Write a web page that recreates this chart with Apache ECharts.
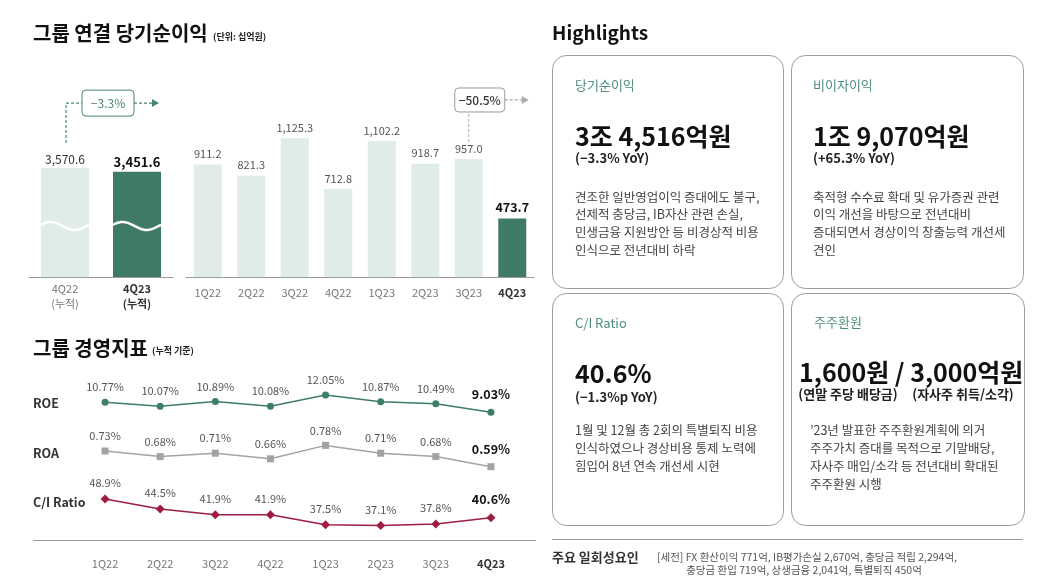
<!DOCTYPE html>
<html><head><meta charset="utf-8">
<script src="https://cdn.jsdelivr.net/npm/echarts@6/dist/echarts.min.js"></script>
<style>html,body{margin:0;padding:0;background:#fff}#c{width:1052px;height:582px}</style>
</head><body><div id="c"></div>
<script>
// ---------- data ----------
const cumCategories = ['4Q22\n(누적)', '4Q23\n(누적)'];
const cumValues = [3570.6, 3451.6];
const qCategories = ['1Q22', '2Q22', '3Q22', '4Q22', '1Q23', '2Q23', '3Q23', '4Q23'];
const qValues = [911.2, 821.3, 1125.3, 712.8, 1102.2, 918.7, 957.0, 473.7];
const roeValues = [10.77, 10.07, 10.89, 10.08, 12.05, 10.87, 10.49, 9.03];
const roaValues = [0.73, 0.68, 0.71, 0.66, 0.78, 0.71, 0.68, 0.59];
const ciValues = [48.9, 44.5, 41.9, 41.9, 37.5, 37.1, 37.8, 40.6];
const yoyCumText = '−3.3%';
const qoqText = '−50.5%';

// ---------- style ----------
const FONT = '"Noto Sans CJK KR", "Noto Sans", sans-serif';
const LIGHT = '#dfecea', DARK = '#3e7a67';
const ROE_C = '#3d7d6a', ROA_C = '#a3a3a3', CI_C = '#9e1d41';
const lastQ = qCategories.length - 1;
const fmt1 = v => v.toLocaleString('en-US', {minimumFractionDigits: 1, maximumFractionDigits: 1});

function richCat(lastIdx) {
  return {
    margin: 0, interval: 0,
    formatter: (v, i) => v.split('\n').map(s => i === lastIdx ? '{b|' + s + '}' : '{n|' + s + '}').join('\n'),
    rich: {
      n: {color: '#777', fontSize: 11, lineHeight: 15, fontFamily: FONT},
      b: {color: '#333', fontSize: 11, fontWeight: 'bold', lineHeight: 15, fontFamily: FONT}
    }
  };
}

function lineSeries(values, yIdx, color, symbol, size, dec) {
  const last = values.length - 1;
  return {
    type: 'line', xAxisIndex: 2, yAxisIndex: yIdx,
    symbol: symbol, symbolSize: size,
    lineStyle: {color: color, width: 1.5},
    itemStyle: {color: color},
    label: {show: true, position: 'top', distance: 6, color: '#555', fontSize: 11, fontFamily: FONT,
      formatter: p => p.value.toFixed(dec) + '%'},
    data: values.map((v, i) => i === last
      ? {value: v, label: {color: '#111', fontWeight: 'bold', fontSize: 12.5, distance: 8}}
      : v)
  };
}

const chart = echarts.init(document.getElementById('c'), null, {renderer: 'canvas'});

const option = {
  animation: false,
  textStyle: {fontFamily: FONT},
  grid: [
    {left: 29, width: 144, top: 155, height: 122},
    {left: 186, width: 348, top: 129, height: 148},
    {left: 77.5, width: 441, top: 380, height: 160}
  ],
  xAxis: [
    Object.assign({type: 'category', gridIndex: 0, data: cumCategories,
      axisTick: {show: false}, axisLine: {lineStyle: {color: '#9a9a9a'}}},
      {axisLabel: Object.assign(richCat(1), {margin: 4})}),
    Object.assign({type: 'category', gridIndex: 1, data: qCategories,
      axisTick: {show: false}, axisLine: {lineStyle: {color: '#9a9a9a'}}},
      {axisLabel: Object.assign(richCat(lastQ), {margin: 8})}),
    Object.assign({type: 'category', gridIndex: 2, data: qCategories,
      axisTick: {show: false}, axisLine: {show: false}},
      {axisLabel: Object.assign(richCat(lastQ), {margin: 16})})
  ],
  yAxis: [
    {type: 'value', gridIndex: 0, min: 0, max: 4000, show: false},
    {type: 'value', gridIndex: 1, min: 0, max: 1200, show: false},
    {type: 'value', gridIndex: 2, min: -13.4, max: 14.67, show: false},
    {type: 'value', gridIndex: 2, min: -0.065, max: 1.364, show: false},
    {type: 'value', gridIndex: 2, min: 30.7, max: 101.8, show: false}
  ],
  series: [
    {
      type: 'bar', xAxisIndex: 0, yAxisIndex: 0, barWidth: 48,
      label: {show: true, position: 'top', distance: 3, color: '#333', fontSize: 12, fontFamily: FONT,
        formatter: p => fmt1(p.value)},
      data: cumValues.map((v, i) => i === 1
        ? {value: v, itemStyle: {color: DARK}, label: {fontWeight: 'bold', color: '#111', fontSize: 13}}
        : {value: v, itemStyle: {color: LIGHT}})
    },
    {
      type: 'custom', xAxisIndex: 0, yAxisIndex: 0, z: 5, silent: true,
      data: cumValues.map((v, i) => [i, v]),
      renderItem: function (params, api) {
        const base = api.coord([api.value(0), 0]);
        const w = 48;
        const x0 = base[0] - w / 2;
        const yc = base[1] - 51;
        const pts = [];
        for (let k = 0; k <= 24; k++) {
          const t = k / 24;
          pts.push([x0 + t * w, yc - 4 * Math.sin(Math.PI * 2 * (t + 0.05))]);
        }
        return {type: 'polyline', shape: {points: pts, smooth: 0.3},
          style: {stroke: '#ffffff', lineWidth: 2.5, fill: null}};
      }
    },
    {
      type: 'bar', xAxisIndex: 1, yAxisIndex: 1, barWidth: 28,
      label: {show: true, position: 'top', distance: 5, color: '#555', fontSize: 11, fontFamily: FONT,
        formatter: p => fmt1(p.value)},
      data: qValues.map((v, i) => i === lastQ
        ? {value: v, itemStyle: {color: DARK}, label: {fontWeight: 'bold', color: '#111', fontSize: 12.5}}
        : {value: v, itemStyle: {color: LIGHT}})
    },
    lineSeries(roeValues, 2, ROE_C, 'circle', 7, 2),
    lineSeries(roaValues, 3, ROA_C, 'rect', 7, 2),
    lineSeries(ciValues, 4, CI_C, 'diamond', 9, 1)
  ]
};
chart.setOption(option);

// ---------- graphic (texts, cards, annotations) ----------
function T(x, y, text, font, fill, align, vAlign, extra) {
  return {type: 'text', x: x, y: y, z: 10, silent: true,
    style: Object.assign({text: text, font: font, fill: fill,
      textAlign: align || 'left', align: align || 'left',
      textVerticalAlign: vAlign || 'middle', verticalAlign: vAlign || 'middle'}, extra || {})};
}
function card(x, y, w, h) {
  return {type: 'rect', z: 1, silent: true, shape: {x: x, y: y, width: w, height: h, r: 14},
    style: {fill: '#fff', stroke: '#9c9c9c', lineWidth: 1}};
}
function dashed(points, color) {
  return {type: 'polyline', z: 6, silent: true, shape: {points: points},
    style: {stroke: color, lineWidth: 1.2, lineDash: [3, 2], fill: null}};
}
function head(x, y, color) {
  return {type: 'polygon', z: 6, silent: true, shape: {points: [[x - 7, y - 4], [x, y], [x - 7, y + 4]]},
    style: {fill: color}};
}
function box(cx, cy, w, h, color) {
  return {type: 'rect', z: 6, silent: true, shape: {x: cx - w / 2, y: cy - h / 2, width: w, height: h, r: 4},
    style: {fill: '#fff', stroke: color, lineWidth: 1}};
}

const a0 = chart.convertToPixel({xAxisIndex: 0, yAxisIndex: 0}, [0, cumValues[0]]);
const a1 = chart.convertToPixel({xAxisIndex: 0, yAxisIndex: 0}, [1, cumValues[1]]);
const b6 = chart.convertToPixel({xAxisIndex: 1, yAxisIndex: 1}, [6, qValues[6]]);

const G1 = '#4b8472', G2 = '#9a9a9a';
const lbx = a0[0] + 43, lby = a0[1] - 65;
const rbx = b6[0] + 11, rby = b6[1] - 59;

const bodyFont = '12.5px ' + FONT;
const labelFont = '13px ' + FONT;
const bigFont = 'bold 25px ' + FONT;
const subFont = 'bold 13px ' + FONT;
const LBL = '#4f8d7f', BODY = '#444';

const graphic = [
  // titles
  T(33, 33, '그룹 연결 당기순이익', 'bold 20px ' + FONT, '#111'),
  T(213, 37, '(단위: 십억원)', 'bold 9px ' + FONT, '#222'),
  T(33, 348, '그룹 경영지표', 'bold 20px ' + FONT, '#111'),
  T(152, 351, '(누적 기준)', 'bold 9px ' + FONT, '#222'),
  T(552, 33, 'Highlights', 'bold 19px ' + FONT, '#111'),

  // left annotation (-3.3%)
  dashed([[a0[0] + 1, a0[1] - 25], [a0[0] + 1, lby], [lbx - 26, lby]], G1),
  box(lbx, lby, 52, 26, G1),
  T(lbx, lby, yoyCumText, '12px ' + FONT, G1, 'center'),
  dashed([[lbx + 26, lby], [a1[0] + 18, lby]], G1),
  head(a1[0] + 22, lby, G1),

  // right annotation (-50.5%)
  dashed([[b6[0], b6[1] - 17], [b6[0], rby + 12]], '#bbbbbb'),
  box(rbx, rby, 50, 24, G2),
  T(rbx, rby, qoqText, '500 12px ' + FONT, '#333', 'center'),
  dashed([[rbx + 25, rby], [b6[0] + 56, rby]], '#aaaaaa'),
  head(b6[0] + 60, rby, '#aaaaaa'),

  // line chart row labels + baseline
  T(33, 403, 'ROE', 'bold 12.5px ' + FONT, '#333'),
  T(33, 453, 'ROA', 'bold 12.5px ' + FONT, '#333'),
  T(33, 502, 'C/I Ratio', 'bold 12.5px ' + FONT, '#333'),
  {type: 'line', z: 2, silent: true, shape: {x1: 33, y1: 540.5, x2: 536, y2: 540.5},
    style: {stroke: '#9a9a9a', lineWidth: 1}},

  // cards
  card(552.5, 55.5, 231, 233), card(791.5, 55.5, 232, 233),
  card(552.5, 293.5, 231, 232), card(791.5, 293.5, 233, 232),

  T(575, 85, '당기순이익', labelFont, LBL),
  T(575, 136, '3조 4,516억원', bigFont, '#111'),
  T(575, 158, '(−3.3% YoY)', subFont, '#222'),
  T(575, 188, '견조한 일반영업이익 증대에도 불구,\n선제적 충당금, IB자산 관련 손실,\n민생금융 지원방안 등 비경상적 비용\n인식으로 전년대비 하락',
    bodyFont, BODY, 'left', 'top', {lineHeight: 17.8}),

  T(813, 85, '비이자이익', labelFont, LBL),
  T(813, 136, '1조 9,070억원', bigFont, '#111'),
  T(813, 158, '(+65.3% YoY)', subFont, '#222'),
  T(813, 188, '축적형 수수료 확대 및 유가증권 관련\n이익 개선을 바탕으로 전년대비\n증대되면서 경상이익 창출능력 개선세\n견인',
    bodyFont, BODY, 'left', 'top', {lineHeight: 17.8}),

  T(575, 323, 'C/I Ratio', labelFont, LBL),
  T(575, 373, '40.6%', bigFont, '#111'),
  T(575, 397, '(−1.3%p YoY)', subFont, '#222'),
  T(575, 421, '1월 및 12월 총 2회의 특별퇴직 비용\n인식하였으나 경상비용 통제 노력에\n힘입어 8년 연속 개선세 시현',
    bodyFont, BODY, 'left', 'top', {lineHeight: 18}),

  T(814, 322, '주주환원', labelFont, LBL),
  T(799, 372, '1,600원 / 3,000억원', bigFont, '#111'),
  T(848, 394, '(연말 주당 배당금)', subFont, '#222', 'center'),
  T(963, 394, '(자사주 취득/소각)', subFont, '#222', 'center'),
  T(810, 421, '\u201923년 발표한 주주환원계획에 의거\n주주가치 증대를 목적으로 기말배당,\n자사주 매입/소각 등 전년대비 확대된\n주주환원 시행',
    bodyFont, BODY, 'left', 'top', {lineHeight: 18}),

  // footer
  {type: 'line', z: 2, silent: true, shape: {x1: 552, y1: 539.5, x2: 1023, y2: 539.5},
    style: {stroke: '#9a9a9a', lineWidth: 1}},
  T(552, 557, '주요 일회성요인', 'bold 13px ' + FONT, '#333'),
  T(807, 557, '[세전] FX 환산이익 771억, IB평가손실 2,670억, 충당금 적립 2,294억,', '10.5px ' + FONT, '#555', 'center'),
  T(804, 570, '충당금 환입 719억, 상생금융 2,041억, 특별퇴직 450억', '10.5px ' + FONT, '#555', 'center')
];

chart.setOption({graphic: graphic});
</script>
</body></html>
